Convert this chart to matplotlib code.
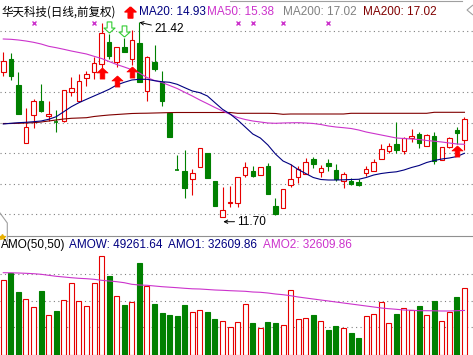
import matplotlib
matplotlib.use("Agg")
import matplotlib.pyplot as plt
from matplotlib.patches import Rectangle, Polygon
from matplotlib.path import Path
from matplotlib.lines import Line2D
import numpy as np

# ---------------- data ----------------
opens = [18.95, 19.57, 18.285, 15.37, 16.785, 17.485, 16.72, 16.45, 16.485, 17.92,
         17.5, 18.62, 18.95, 19.35, 20.42, 19.45, 20.17, 19.57, 20.37, 17.985,
         19.45, 18.45, 16.9, 14.07, 13.985, 13.57, 14.17, 14.87, 13.485, 11.70,
         12.37, 12.37, 13.785, 14.0, 13.785, 14.25, 12.25, 12.12, 13.285, 13.7,
         13.82, 14.585, 13.92, 14.4, 14.035, 13.485, 13.5, 13.45, 13.87, 13.985,
         14.585, 15.0, 15.32, 14.985, 15.65, 15.835, 15.25, 15.75, 14.535, 15.2,
         16.035, 15.535]
closes = [19.50, 18.75, 16.85, 16.185, 17.485, 17.0, 16.835, 16.40, 18.02, 18.12,
          18.485, 18.835, 19.4, 20.87, 19.75, 20.2, 19.92, 20.535, 18.45, 19.67,
          19.085, 17.485, 15.7, 14.04, 13.15, 13.87, 15.12, 13.62, 12.25, 12.035,
          12.45, 13.7, 14.2, 13.75, 14.2, 12.82, 11.82, 13.085, 13.585, 14.07,
          14.45, 14.335, 14.15, 14.25, 13.585, 13.82, 13.335, 13.285, 14.085, 14.42,
          15.07, 15.25, 15.035, 15.65, 15.75, 15.37, 15.785, 14.485, 15.17, 15.62,
          15.87, 16.57]
highs = [19.92, 19.87, 18.92, 17.12, 17.57, 18.335, 17.485, 17.035, 18.02, 18.67,
         18.82, 18.985, 19.67, 21.37, 20.82, 20.2, 20.62, 21.035, 21.42, 19.735,
         20.285, 18.985, 16.9, 14.785, 15.035, 14.07, 15.12, 14.87, 13.485, 13.2,
         13.235, 13.7, 14.45, 14.25, 14.2, 14.37, 12.65, 13.085, 14.32, 14.25,
         14.62, 14.7, 14.285, 14.57, 14.32, 13.95, 13.62, 13.57, 14.25, 14.585,
         15.32, 15.37, 16.42, 15.7, 16.085, 15.92, 15.835, 15.92, 15.17, 15.7,
         16.2, 16.7]
lows = [18.75, 18.535, 16.835, 15.37, 16.12, 16.95, 16.485, 15.95, 16.45, 17.735,
        17.5, 18.25, 18.585, 19.12, 19.585, 19.2, 19.92, 19.285, 18.45, 17.485,
        18.985, 17.25, 15.7, 14.03, 12.65, 12.785, 14.17, 13.62, 12.25, 11.70,
        12.2, 12.2, 13.7, 13.7, 13.785, 12.82, 11.785, 12.12, 13.2, 13.37,
        13.82, 14.12, 13.7, 13.985, 13.5, 13.12, 13.285, 13.25, 13.75, 13.985,
        14.585, 14.87, 14.87, 14.82, 15.42, 15.12, 15.25, 14.32, 14.535, 15.15,
        15.335, 15.035]

ma20 = [16.335, 16.37, 16.40, 16.42, 16.45, 16.485, 16.57, 16.70, 16.95, 17.20,
        17.40, 17.57, 17.735, 17.90, 18.07, 18.285, 18.42, 18.535, 18.57, 18.57,
        18.50, 18.45, 18.42, 18.32, 18.15, 17.985, 17.90, 17.735, 17.40, 17.07,
        16.835, 16.535, 16.185, 15.835, 15.635, 15.285, 14.835, 14.485, 14.31, 14.06,
        13.86, 13.66, 13.56, 13.535, 13.535, 13.545, 13.56, 13.57, 13.66, 13.785,
        13.86, 13.91, 13.945, 14.035, 14.16, 14.26, 14.41, 14.51, 14.585, 14.635,
        14.71, 14.87]
ma50 = [20.585, 20.57, 20.535, 20.485, 20.42, 20.335, 20.22, 20.15, 20.07, 19.985,
        19.91, 19.835, 19.72, 19.61, 19.46, 19.31, 19.185, 19.05, 18.885, 18.66,
        18.51, 18.41, 18.26, 18.11, 17.92, 17.735, 17.535, 17.35, 17.16, 16.985,
        16.82, 16.66, 16.56, 16.485, 16.435, 16.385, 16.37, 16.385, 16.395, 16.40,
        16.385, 16.36, 16.31, 16.235, 16.185, 16.15, 16.11, 16.035, 15.935, 15.86,
        15.785, 15.71, 15.635, 15.61, 15.585, 15.56, 15.51, 15.475, 15.435, 15.385,
        15.335, 15.32]
ma200 = [16.36, 16.36, 16.37, 16.385, 16.40, 16.435, 16.485, 16.535, 16.585, 16.62,
         16.635, 16.65, 16.71, 16.75, 16.785, 16.81, 16.835, 16.86, 16.87, 16.875,
         16.885, 16.895, 16.905, 16.91, 16.91, 16.91, 16.91, 16.91, 16.91, 16.91,
         16.91, 16.87, 16.87, 16.87, 16.87, 16.87, 16.86, 16.82, 16.835, 16.835,
         16.835, 16.835, 16.835, 16.835, 16.835, 16.835, 16.87, 16.87, 16.87, 16.87,
         16.87, 16.87, 16.87, 16.87, 16.87, 16.87, 16.87, 16.92, 16.92, 16.92,
         16.92, 16.92]

amount = [54900, 60240, 46340, 40990, 35360, 47070, 29280, 32210, 40260, 52480,
          39530, 35870, 52480, 72470, 58050, 43190, 36600, 38800, 67560, 50510,
          37550, 30740, 29280, 28770, 36600, 31260, 32720, 31480, 26350, 24670,
          20500, 23940, 37330, 23420, 19540, 24160, 23420, 21960, 47580, 26350,
          26860, 29280, 24890, 18300, 21230, 19540, 16320, 12440, 28550, 29790,
          38800, 23420, 30010, 34400, 32940, 35870, 29280, 39530, 24890, 31700,
          42680, 49261.64]
amo_ma = [60240, 60170, 60020, 59800, 59510, 59070, 58340, 57610, 57100, 56580,
          56140, 55850, 55410, 54680, 54170, 53660, 52920, 51750, 51240, 51020,
          50510, 50000, 49630, 49260, 48820, 48460, 48310, 47950, 47580, 47360,
          47070, 46850, 46630, 46120, 45900, 45380, 44650, 44140, 43410, 42460,
          41720, 40990, 40260, 39530, 38800, 38060, 37330, 36600, 35870, 35140,
          34400, 33890, 33450, 32940, 32720, 32430, 32430, 32350, 32210, 32210,
          32430, 32609.86]

buy_idx = [13, 15, 17, 60]
buy_lvl = [18.89, 18.49, 18.94, 14.99]
sell_idx = [14, 16]
sell_lvl = [21.19, 20.99]
cross_idx = [4, 12, 31, 33, 37, 43]
cross_lvl = 21.41

title = "华天科技(日线,前复权)"
hdr_ma = [("MA20: 14.93", "#000080"), ("MA50: 15.38", "#cc33cc"),
          ("MA200: 17.02", "#808080"), ("MA200: 17.02", "#800000")]
hdr_amo = [("AMO(50,50)", "#000000"), ("AMOW: 49261.64", "#000080"),
           ("AMO1: 32609.86", "#000080"), ("AMO2: 32609.86", "#cc33cc")]
price_grid = [20.985, 19.46, 17.935, 16.41, 14.885, 13.36, 11.835]
amo_grid = [59290, 39530, 20280]

# ---------------- style ----------------
RED = "#e60000"
GREEN = "#008000"
W, H = 473, 355
fig = plt.figure(figsize=(W / 100, H / 100), dpi=100)
fig.patch.set_facecolor("white")

def fx(px):
    return px / W

def fy(py):
    return 1 - py / H

ax = fig.add_axes([0, fy(236), 1, 236 / H])
axv = fig.add_axes([0, 0, 1, 119 / H])
n = len(opens)
x = np.arange(n)
xlim = (-3.3 / 7.56, (W - 3.3) / 7.56)
for a in (ax, axv):
    a.set_xlim(*xlim)
    a.axis("off")
ax.set_ylim(22.535 - 236 / 20, 22.535)
axv.set_ylim(0, 119 * 732)

dot = (0, (1, 3))
for g in price_grid:
    ax.axhline(g, color="#808080", lw=0.8, ls=dot, zorder=0)
for g in amo_grid:
    axv.axhline(g, color="#808080", lw=0.8, ls=dot, zorder=0)

bw = 0.6
for i in range(n):
    o, c, h, l = opens[i], closes[i], highs[i], lows[i]
    up = c >= o
    col = RED if up else GREEN
    ax.vlines(i, l, h, color=col, lw=0.8, zorder=2)
    top, bot = max(o, c), min(o, c)
    if top - bot < 0.06:
        ax.hlines((top + bot) / 2, i - bw / 2, i + bw / 2, color=col, lw=1.2, zorder=3)
    else:
        ax.add_patch(Rectangle((i - bw / 2, bot), bw, top - bot,
                               facecolor="white" if up else GREEN,
                               edgecolor=col, lw=0.8, zorder=3))
    axv.add_patch(Rectangle((i - 0.33, 0), 0.66, amount[i],
                            facecolor="white" if up else GREEN,
                            edgecolor=col, lw=0.8, zorder=3))

ax.plot(x, ma200, color="#800000", lw=0.8, zorder=4)
ax.plot(x, ma50, color="#cc33cc", lw=0.8, zorder=4)
ax.plot(x, ma20, color="#000080", lw=0.8, zorder=4)
axv.plot(x, amo_ma, color="#cc33cc", lw=0.8, zorder=4)

up_arrow = Path([(0, 1), (1, 0.1), (0.42, 0.1), (0.42, -1), (-0.42, -1),
                 (-0.42, 0.1), (-1, 0.1), (0, 1)])
down_arrow = Path([(0, -1), (1, -0.1), (0.42, -0.1), (0.42, 1), (-0.42, 1),
                   (-0.42, -0.1), (-1, -0.1), (0, -1)])
ax.plot(buy_idx, buy_lvl, ls="none", marker=up_arrow, ms=8, mfc="#ff0000",
        mec="#ff0000", mew=0.5, zorder=6)
ax.plot(sell_idx, sell_lvl, ls="none", marker=down_arrow, ms=8, mfc="white",
        mec="#33cc33", mew=0.8, zorder=6)
ax.plot(cross_idx, [cross_lvl] * len(cross_idx), ls="none", marker="x", ms=3.2,
        mec="#cc33cc", mew=1.0, zorder=6)

imax = int(np.argmax(highs))
imin = int(np.argmin(lows))
ax.annotate(f"{highs[imax]:.2f}", xy=(imax, highs[imax]), xytext=(imax + 1.95, highs[imax] - 0.34),
            fontsize=8.5, family="Liberation Sans", va="center", ha="left",
            arrowprops=dict(arrowstyle="->", lw=0.7, color="black", shrinkA=0, shrinkB=0,
                            mutation_scale=6))
ax.annotate(f"{lows[imin]:.2f}", xy=(imin + 0.1, lows[imin] - 0.25),
            xytext=(imin + 1.95, lows[imin] - 0.25),
            fontsize=8.5, family="Liberation Sans", va="center", ha="left",
            arrowprops=dict(arrowstyle="->", lw=0.7, color="black", shrinkA=0, shrinkB=0,
                            mutation_scale=6))

# header texts
fig.text(fx(1), fy(12), title, family=["Noto Sans CJK SC", "DejaVu Sans"],
         fontsize=8.3, va="center", ha="left")
fig.add_artist(Line2D([fx(130)], [fy(11.5)], marker=up_arrow, ms=8, mfc="#ff0000",
                      mec="#ff0000", ls="none"))
for (t, c), px in zip(hdr_ma, [139, 207, 283, 363]):
    fig.text(fx(px), fy(12), t, color=c, family="Liberation Sans", fontsize=8.5,
             va="center", ha="left")
for (t, c), px in zip(hdr_amo, [1, 69, 168, 263]):
    fig.text(fx(px), fy(245), t, color=c, family="Liberation Sans", fontsize=8.5,
             va="center", ha="left")

# panel frame decorations
fig.add_artist(Line2D([fx(7.3), 1], [fy(236), fy(236)], color="#909090", lw=0.8))
fig.add_artist(Line2D([fx(230), fx(462)], [fy(0.5), fy(0.5)], color="#a0a0a0", lw=0.8))
fig.add_artist(Line2D([0, fx(7.3), fx(7.3)], [fy(213), fy(223), fy(241)],
                      color="#a0a0a0", lw=0.8))
fig.add_artist(Polygon([(1, fy(5)), (fx(467), fy(10)), (1, fy(15))], closed=False,
                       fill=False, edgecolor="#a0a0a0", lw=0.8, transform=fig.transFigure))
fig.add_artist(Line2D([fx(1.5)], [fy(237)], marker="*", ms=4, mfc="#e8b000",
                      mec="#e8b000", ls="none"))

fig.savefig("out.png", dpi=100, facecolor="white")
